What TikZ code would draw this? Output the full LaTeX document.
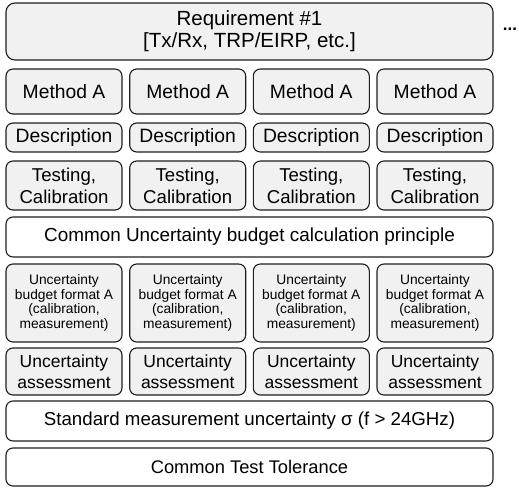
\documentclass[tikz,border=0pt]{standalone}
\usepackage{fontspec}
\setmainfont{Liberation Sans}
\definecolor{boxgray}{HTML}{F1F1F1}
\definecolor{edgecol}{HTML}{1E1E1E}
\begin{document}
\begin{tikzpicture}[x=1pt,y=-1pt,
  box/.style={draw=edgecol,line width=1.1pt,rounded corners=7pt,inner sep=0pt,align=center,text=black},
  graybox/.style={box,fill=boxgray},
  whitebox/.style={box,fill=white},
  colbox/.style={graybox,minimum width=116pt},
  widebox/.style={minimum width=487pt}]
\useasboundingbox (0,0) rectangle (519,487);
\node[graybox,widebox,minimum height=57pt,rounded corners=9pt,font=\fontsize{20.5}{22}\selectfont] (req) at (249.5,31.5) {Requirement \#1\\{}[Tx/Rx, TRP/EIRP, etc.]};
\node[font=\fontsize{17}{20}\selectfont\bfseries,inner sep=0pt] (dots) at (510,29) {...};
\foreach \i/\cx in {1/64,2/187.7,3/311.3,4/435}{
  \node[colbox,minimum height=45pt,font=\fontsize{19.3}{22}\selectfont] (meth\i) at (\cx,91.5) {Method A};
  \node[colbox,minimum height=29pt,font=\fontsize{19.3}{22}\selectfont] (desc\i) at (\cx,137.5) {Description};
  \node[colbox,minimum height=49pt,font=\fontsize{18.6}{22}\selectfont] (test\i) at (\cx,185.5) {Testing,\\Calibration};
  \node[colbox,minimum height=78pt,font=\fontsize{13.8}{14.7}\selectfont] (budg\i) at (\cx,303) {Uncertainty\\budget format A\\(calibration,\\measurement)};
  \node[colbox,minimum height=47pt,font=\fontsize{17.5}{21}\selectfont] (asse\i) at (\cx,371.5) {Uncertainty\\assessment};
}
\node[whitebox,widebox,minimum height=40pt,font=\fontsize{18.9}{22}\selectfont] (common) at (249.5,237) {Common Uncertainty budget calculation principle};
\node[whitebox,widebox,minimum height=40pt,font=\fontsize{18.7}{22}\selectfont] (std) at (249.5,421) {Standard measurement uncertainty σ (f > 24GHz)};
\node[whitebox,widebox,minimum height=38pt,font=\fontsize{18.3}{22}\selectfont] (ctt) at (249.5,467) {Common Test Tolerance};
\end{tikzpicture}
\end{document}
